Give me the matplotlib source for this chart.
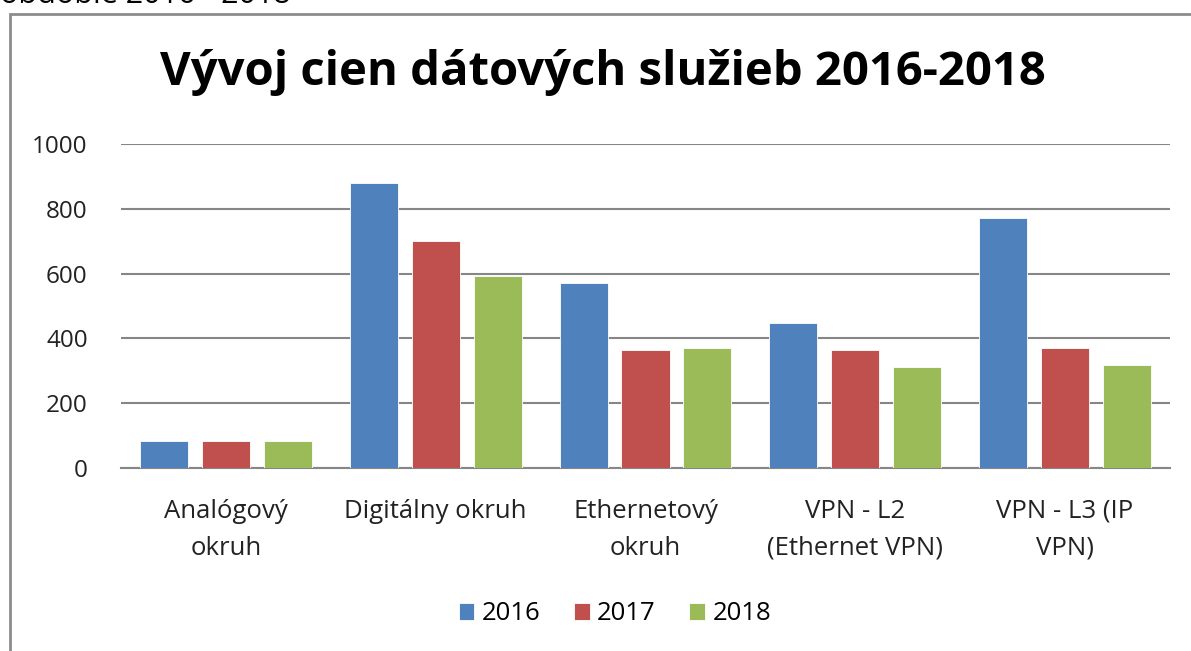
import numpy as np
import matplotlib.pyplot as plt
from matplotlib.patches import Rectangle

plt.rcParams['font.family'] = ['Open Sans', 'DejaVu Sans']

# dáta
categories = ['Analógový\nokruh', 'Digitálny okruh', 'Ethernetový\nokruh',
              'VPN - L2\n(Ethernet VPN)', 'VPN - L3 (IP\nVPN)']
years = ['2016', '2017', '2018']
v2016 = [83, 880, 570, 449, 772]
v2017 = [83, 700, 363, 363, 370]
v2018 = [83, 592, 370, 312, 319]
colors = ['#4F81BD', '#C0504D', '#9BBB59']

fig = plt.figure(figsize=(11.91, 6.51), dpi=100)
ax = fig.add_axes([121 / 1191, 1 - 468 / 651, 1049 / 1191, 324 / 651])

x = np.arange(len(categories))
w = 0.229
step = 0.295
for i, (vals, lab) in enumerate(zip([v2016, v2017, v2018], years)):
    ax.bar(x + (i - 1) * step, vals, width=w, color=colors[i], label=lab,
           edgecolor='white', linewidth=0.6, zorder=3)

ax.set_xlim(-0.5, len(categories) - 0.5)
ax.set_ylim(0, 1000)
ax.set_yticks(np.arange(0, 1001, 200))
ax.yaxis.grid(True, color='#868686', linewidth=1.5, zorder=0)
ax.set_axisbelow(True)
for s in ['left', 'right', 'top']:
    ax.spines[s].set_visible(False)
ax.spines['bottom'].set_color('#868686')
ax.spines['bottom'].set_linewidth(1.5)
ax.tick_params(axis='y', length=0, pad=24, labelsize=17.5, labelcolor='#222222')
ax.tick_params(axis='x', length=0, pad=22, labelsize=18.5, labelcolor='#222222')
ax.set_xticks(x)
ax.set_xticklabels(categories, linespacing=1.65)

fig.text(603 / 1191, 1 - 73 / 651, 'Vývoj cien dátových služieb 2016-2018',
         ha='center', va='center', fontsize=34, fontweight='bold')

leg = fig.legend(loc='center', bbox_to_anchor=(615 / 1191, 1 - 614 / 651),
                 ncol=3, frameon=False, fontsize=18.5, handlelength=0.6,
                 handleheight=0.6, handletextpad=0.3, columnspacing=1.3)

# rámček grafu a odrezaný text nad ním
fig.patches.append(Rectangle((10 / 1191, -0.1), 1.2, 1 - 14 / 651 + 0.1,
                             transform=fig.transFigure, fill=False,
                             edgecolor='#8c8c8c', linewidth=2))
fig.text(0.0, 1 - 3 / 651, 'obdobie 2016 - 2018', ha='left', va='baseline',
         fontsize=22)

fig.savefig('out.png', dpi=100)
